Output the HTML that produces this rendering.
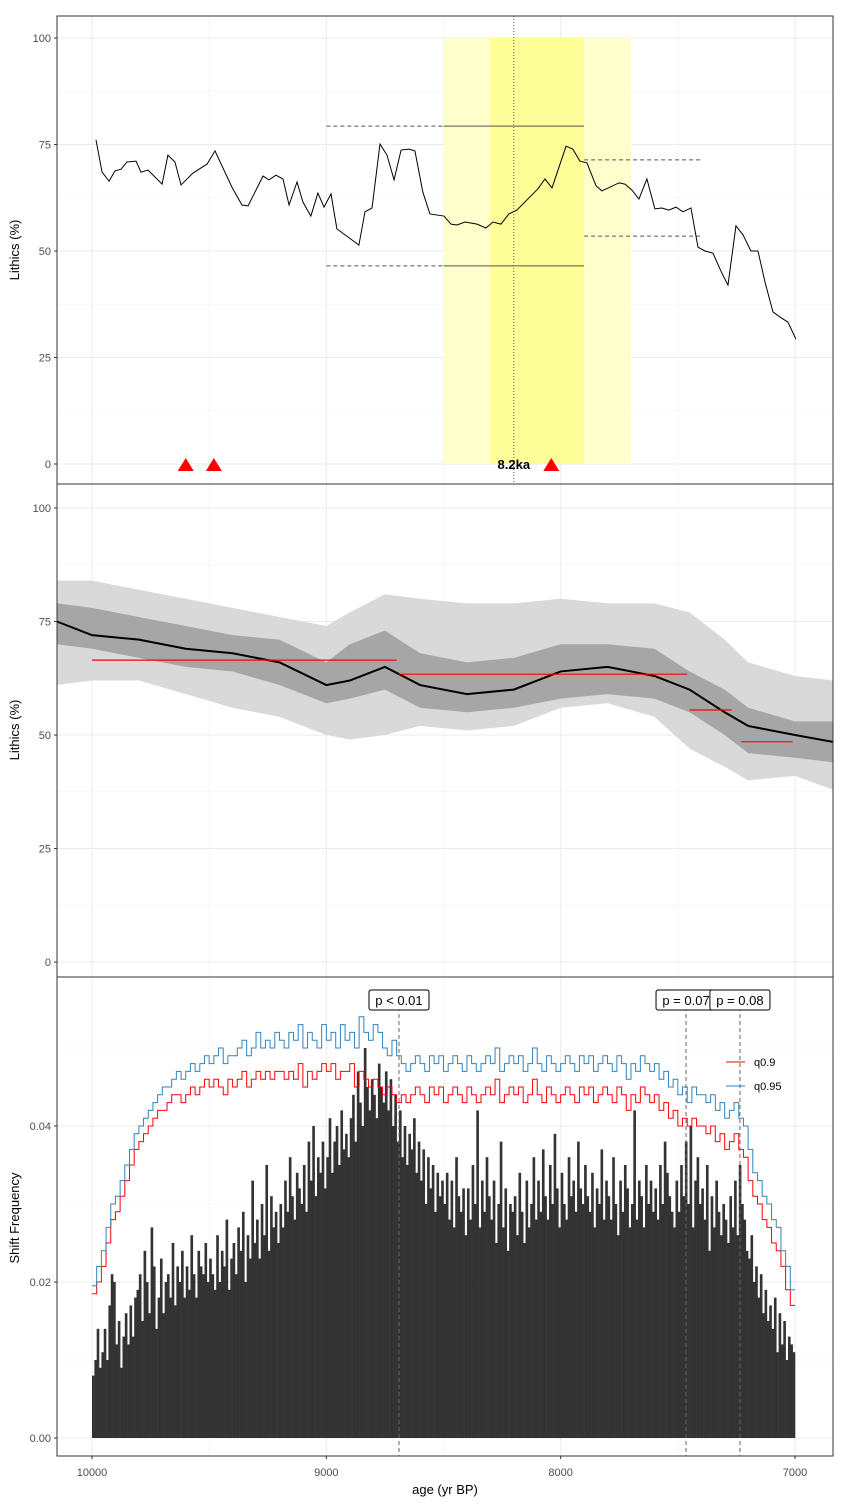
<!DOCTYPE html>
<html><head><meta charset="utf-8"><style>
html,body{margin:0;padding:0;background:#fff;}
svg{display:block;font-family:"Liberation Sans",sans-serif;}
</style></head><body>
<svg id="chart" width="841" height="1505" viewBox="0 0 841 1505"></svg>
<script>
// ---------- DATA ----------
const p1Years = [9983,9957,9927,9902,9876,9851,9812,9791,9761,9701,9676,9646,9620,9569,9509,9475,9403,9360,9334,9270,9245,9215,9185,9159,9125,9100,9066,9036,9010,8980,8955,8861,8835,8805,8771,8741,8711,8681,8647,8622,8588,8558,8498,8468,8443,8408,8357,8319,8289,8255,8221,8187,8097,8067,8037,7977,7948,7918,7888,7849,7824,7751,7726,7696,7666,7632,7598,7568,7538,7508,7478,7444,7414,7384,7350,7312,7286,7252,7222,7188,7158,7128,7094,7064,7030,6996];
const p1Values = [76.1,68.5,66.4,68.8,69.2,70.9,71.1,68.5,69.0,65.7,72.5,70.9,65.5,68.3,70.4,73.5,65.0,60.8,60.6,67.6,66.7,67.8,66.9,60.8,66.2,61.5,58.2,63.6,60.3,63.4,55.2,51.4,59.2,60.1,75.1,72.5,66.7,73.7,73.9,73.5,63.8,58.7,58.2,56.3,56.1,56.8,56.3,55.4,56.8,56.3,58.7,59.6,64.6,66.9,64.8,74.6,73.9,71.1,70.7,65.3,64.1,66.0,65.7,64.3,62.2,66.9,59.9,60.1,59.6,60.3,59.2,60.1,50.9,50.0,49.5,44.8,42.0,55.9,53.8,50.0,50.0,42.7,35.7,34.5,33.3,29.3];
const triangleYears = [9600,9480,8040];
const bandYears = [10150,10000,9800,9600,9400,9200,9000,8900,8750,8600,8400,8200,8000,7800,7600,7450,7300,7200,7000,6840];
const outerUpper = [84,84,82,80,78,76,74,77,81,80,79,79,80,79,79,77,71,66,63,62];
const outerLower = [61,62,62,59,56,54,50,49,50,52,51,52,56,57,54,47,43,40,41,38];
const innerUpper = [79,78,76,74,72,71,66,70,73,68,66,67,70,70,69,64,60,56,53,53];
const innerLower = [70,69,67,65,64,61,57,58,60,56,55,56,58,59,58,55,50,46,45,44];
const meanLine   = [75,72,71,69,68,66,61,62,65,61,59,60,64,65,63,60,55,52,50,48.5];
const segStart = [10000,8690,7450,7230];
const segEnd   = [8700,7460,7270,7010];
const segLevel = [66.5,63.4,55.5,48.5];
// bars: 10-yr bins from 10000 down to 7000 (values x 0.001)
const barValues = [
8,10,14,9,11,14,10,17,21,20, 12,15,9,13,16,12,17,13,18,19,
21,15,24,20,16,27,22,14,18,23, 16,20,21,18,25,17,22,20,24,18,
22,19,26,21,18,24,22,21,25,20, 23,21,19,26,20,24,22,28,19,23,
25,21,27,24,29,20,26,23,33,25, 28,23,30,26,35,24,31,27,29,25,
30,27,33,29,36,31,28,34,32,30, 35,29,38,33,40,31,36,34,38,32,
36,41,34,38,40,35,42,37,39,36, 41,44,38,47,43,40,50,45,42,46,
44,41,48,45,43,47,42,46,40,44, 38,42,36,40,35,39,37,41,34,38,
33,37,30,36,32,35,29,34,31,33, 30,34,28,33,27,36,31,29,32,26,
32,28,35,30,42,27,33,29,36,31, 28,33,25,30,38,27,32,24,30,29,
31,26,34,29,25,33,27,30,36,28, 33,29,37,31,28,35,30,39,32,27,
34,30,28,36,31,33,29,38,32,30, 35,31,29,34,27,32,30,37,28,33,
31,28,36,30,26,33,29,35,32,27, 30,42,28,33,31,27,35,30,33,29,
32,28,35,30,38,34,31,29,27,33, 29,35,31,38,30,40,27,33,36,30,
32,28,35,24,31,27,33,29,26,30, 28,25,31,27,33,26,35,30,28,24,
23,26,20,22,18,21,16,19,15,17, 14,18,11,16,12,15,10,13,12,11];
// quantile lines: 20-yr bins (x 0.001)
const q95 = [19.5,22,24,27,30,31,33,35,37,39, 40,41,42,43,44,45,45,46,47,46, 47,48,47,48,49,48,49,50,48,49,
49,50,51,49,50,52,50,51,50,52, 51,50,52,51,53,50,52,51,50,53, 51,52,50,53,51,52,50,54,52,51,
53,52,50,49,51,49,48,47,48,49, 48,47,49,48,49,47,48,49,48,47, 49,48,47,48,49,48,50,47,48,49,
48,49,47,48,50,48,47,49,48,47, 48,49,48,47,49,48,49,47,48,49, 48,47,49,48,46,48,47,49,48,47,
48,46,47,45,46,44,45,43,45,44, 44,43,44,42,43,41,42,43,41,40, 37,34,33,31,30,28,27,24,22,19];
const q90 = [18.5,20,22,25,28,29,31,33,35,37, 38,39,40,41,42,42,43,44,44,43, 44,45,44,45,46,45,46,45,44,46,
45,46,47,45,46,47,46,47,46,47, 47,46,47,46,48,45,47,46,47,48, 47,48,46,47,47,48,45,47,46,45,
46,45,44,45,44,43,44,43,44,45, 44,43,45,44,45,43,44,45,44,43, 45,44,43,44,45,44,46,43,44,45,
44,45,43,44,46,44,43,45,44,43, 44,45,44,43,45,44,45,43,44,45, 44,43,45,44,42,44,43,45,44,43,
44,42,43,41,42,40,41,40,41,40, 40,39,40,38,39,37,38,39,37,36, 33,31,30,28,27,25,24,22,19,17];
const shiftYears = [8690,7465,7235];
const shiftLabels = ["p < 0.01","p = 0.07","p = 0.08"];
const xTicks = [10000,9000,8000,7000];
const pctTicks = [0,25,50,75,100];
const freqTicks = [0,0.02,0.04];

// ---------- SCALES ----------
const X0=57, X1=833;
const xs = y => 92 + (10000 - y) * (703/3000);
const y1 = v => 464 - v*4.26;
const y2 = v => 962 - v*4.54;
const y3 = v => 1438 - v*7800;
const svg = document.getElementById('chart');
const NS = 'http://www.w3.org/2000/svg';
function mk(tag, attrs, parent){ const e=document.createElementNS(NS,tag); for(const k in attrs) e.setAttribute(k,attrs[k]); (parent||svg).appendChild(e); return e; }

function panel(top,bottom,ys,ticks,minor,fmt,name){
  const g = mk('g',{});
  
  
  minor.forEach(v=>{ mk('line',{x1:X0,x2:X1,y1:ys(v),y2:ys(v),stroke:'#f2f2f2','stroke-width':0.6},g); });
  [9500,8500,7500].forEach(v=>{ mk('line',{x1:xs(v),x2:xs(v),y1:top,y2:bottom,stroke:'#f2f2f2','stroke-width':0.6},g); });
  [10000.5,9000,8000,7000].concat([10150]).forEach((v,i)=>{});
  [10000,9000,8000,7000].forEach(v=>{ mk('line',{x1:xs(v),x2:xs(v),y1:top,y2:bottom,stroke:'#ebebeb','stroke-width':1},g); });
  ticks.forEach(v=>{
    mk('line',{x1:X0,x2:X1,y1:ys(v),y2:ys(v),stroke:'#ebebeb','stroke-width':1},g);
    mk('line',{x1:X0-3,x2:X0,y1:ys(v),y2:ys(v),stroke:'#333','stroke-width':1},g);
    const t = mk('text',{x:X0-6,y:ys(v)+4,'text-anchor':'end','font-size':11,fill:'#4d4d4d'},g);
    t.textContent = fmt(v);
    
    
  });
  return g;
}

// ---------- PANEL 1 ----------
const g1 = panel(16,484,y1,pctTicks,[12.5,37.5,62.5,87.5],v=>String(v),'lithics-panel');
const bandL = mk('rect',{x:xs(8500),y:y1(100),width:xs(7700)-xs(8500),height:y1(0)-y1(100),fill:'#ffffcc'},g1);


const bandD = mk('rect',{x:xs(8300),y:y1(100),width:xs(7900)-xs(8300),height:y1(0)-y1(100),fill:'#ffff99'},g1);


const vline = mk('line',{x1:xs(8200),x2:xs(8200),y1:16,y2:484,stroke:'#333','stroke-width':0.8,'stroke-dasharray':'1,2'},g1);


[[79.3,9000,8500,7900],[46.5,9000,8500,7900]].forEach(r=>{
  const d = mk('line',{x1:xs(r[1]),x2:xs(r[2]),y1:y1(r[0]),y2:y1(r[0]),stroke:'#555','stroke-width':1,'stroke-dasharray':'4,3'},g1);
  
  
  const s = mk('line',{x1:xs(r[2]),x2:xs(r[3]),y1:y1(r[0]),y2:y1(r[0]),stroke:'#555','stroke-width':1},g1);
  
  
});
[71.4,53.5].forEach(v=>{
  const d = mk('line',{x1:xs(7900),x2:xs(7400),y1:y1(v),y2:y1(v),stroke:'#555','stroke-width':1,'stroke-dasharray':'4,3'},g1);
  
  
});
const l1 = mk('polyline',{points:p1Years.map((yr,i)=>xs(yr)+','+y1(p1Values[i])).join(' '),fill:'none',stroke:'#000','stroke-width':1},g1);


triangleYears.forEach(yr=>{
  const x=xs(yr), y=y1(0);
  const t = mk('polygon',{points:`${x-8},${y+7} ${x+8},${y+7} ${x},${y-6}`,fill:'#ff0000'},g1);
  
  
});
const lbl = mk('text',{x:xs(8200),y:469,'text-anchor':'middle','font-size':13,'font-weight':'bold',fill:'#000'},g1);
lbl.textContent='8.2ka';



// ---------- PANEL 2 ----------
const g2 = panel(484,977,y2,pctTicks,[12.5,37.5,62.5,87.5],v=>String(v),'smoothed-panel');
function band(up,lo,fill,name){
  const pts = bandYears.map((yr,i)=>xs(yr)+','+y2(up[i])).concat(bandYears.slice().reverse().map((yr,i)=>xs(yr)+','+y2(lo[bandYears.length-1-i])));
  const p = mk('polygon',{points:pts.join(' '),fill:fill},g2);
  
  
}
band(outerUpper,outerLower,'#d9d9d9','outer-confidence-band');
band(innerUpper,innerLower,'#a6a6a6','inner-confidence-band');
const ml = mk('polyline',{points:bandYears.map((yr,i)=>xs(yr)+','+y2(meanLine[i])).join(' '),fill:'none',stroke:'#000','stroke-width':2},g2);


segLevel.forEach((v,i)=>{
  const s = mk('line',{x1:xs(segStart[i]),x2:xs(segEnd[i]),y1:y2(v),y2:y2(v),stroke:'#ff0000','stroke-width':1.2},g2);
  
  
});

// ---------- PANEL 3 ----------
const g3 = panel(977,1456,y3,freqTicks,[0.01,0.03,0.05],v=>v.toFixed(2),'shift-frequency-panel');
const bw = 10*(703/3000);
barValues.forEach((v,i)=>{
  const yr = 10000 - i*10;
  const b = mk('rect',{x:xs(yr),y:y3(v/1000),width:bw+0.3,height:y3(0)-y3(v/1000),fill:'#333333'},g3);
  
  
});
function stepLine(arr,color,name){
  let pts=[];
  arr.forEach((v,i)=>{ const a=xs(10000-i*20), b=xs(10000-(i+1)*20); pts.push(a+','+y3(v/1000), b+','+y3(v/1000)); });
  const p = mk('polyline',{points:pts.join(' '),fill:'none',stroke:color,'stroke-width':1},g3);
  
  
}
stepLine(q90,'#ff0000','q90-line');
stepLine(q95,'#3182bd','q95-line');
shiftYears.forEach((yr,i)=>{
  const x = xs(yr);
  const d = mk('line',{x1:x,x2:x,y1:1000,y2:1456,stroke:'#666','stroke-width':1,'stroke-dasharray':'4,3'},g3);
  
  
});
shiftYears.forEach((yr,i)=>{
  const x = xs(yr);
  const w = 60;
  const bx = mk('rect',{x:x-w/2,y:990,width:w,height:20,rx:2,fill:'#fff',stroke:'#000','stroke-width':1},g3);
  
  
  const t = mk('text',{x:x,y:1005,'text-anchor':'middle','font-size':13,fill:'#000'},g3);
  t.textContent = shiftLabels[i];
  
  
});
[['q0.9','#ff0000',1062],['q0.95','#3182bd',1086]].forEach(e=>{
  const l = mk('line',{x1:726,x2:745,y1:e[2],y2:e[2],stroke:e[1],'stroke-width':1},g3);
  
  
  const t = mk('text',{x:754,y:e[2]+4,'font-size':11,fill:'#000'},g3);
  t.textContent = e[0];
  
  
});

// ---------- FRAMES, AXES ----------
[[16,484],[484,977],[977,1456]].forEach(r=>{
  const f = mk('rect',{x:X0,y:r[0],width:X1-X0,height:r[1]-r[0],fill:'none',stroke:'#333','stroke-width':1});
  
  
});
xTicks.forEach(v=>{
  mk('line',{x1:xs(v),x2:xs(v),y1:1456,y2:1459,stroke:'#333','stroke-width':1});
  const t = mk('text',{x:xs(v),y:1476,'text-anchor':'middle','font-size':11,fill:'#4d4d4d'});
  t.textContent = String(v);
  
  
});
const xt = mk('text',{x:445,y:1494,'text-anchor':'middle','font-size':13,fill:'#000'});
xt.textContent='age (yr BP)';


[['Lithics (%)',250],['Lithics (%)',730],['Shift Frequency',1218]].forEach(a=>{
  const t = mk('text',{x:19,y:a[1],'text-anchor':'middle','font-size':13,fill:'#000',transform:`rotate(-90 19 ${a[1]})`});
  t.textContent=a[0];
  
  
});
</script>
</body></html>
